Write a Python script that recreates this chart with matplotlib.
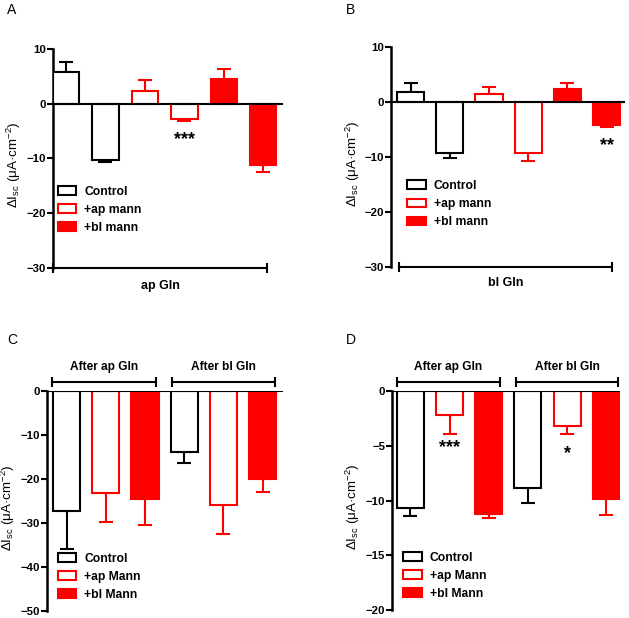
import matplotlib
matplotlib.use("Agg")
import matplotlib.pyplot as plt
from matplotlib.patches import Patch

plt.rcParams['font.family'] = ['Liberation Sans', 'DejaVu Sans']
plt.rcParams['mathtext.fontset'] = 'custom'
plt.rcParams['mathtext.rm'] = 'Liberation Sans'
plt.rcParams['mathtext.it'] = 'Liberation Sans'
plt.rcParams['mathtext.bf'] = 'Liberation Sans:bold'

RED = '#FF0000'

# Panel A (ap Gln)
a_vals = [5.8, -10.3, 2.3, -2.7, 4.5, -11.2]
a_errs = [1.8, 0.4, 2.1, 0.5, 1.8, 1.2]
# Panel B (bl Gln)
b_vals = [1.8, -9.3, 1.4, -9.3, 2.3, -4.1]
b_errs = [1.7, 0.9, 1.3, 1.4, 1.2, 0.4]
# Panel C
c_vals = [-27.2, -23.2, -24.6, -13.8, -25.8, -20.1]
c_errs = [8.6, 6.6, 5.9, 2.5, 6.7, 2.9]
# Panel D
d_vals = [-10.7, -2.2, -11.2, -8.9, -3.2, -9.9]
d_errs = [0.7, 1.7, 0.4, 1.3, 0.7, 1.4]

groups_ab = ['Control', '+ap mann', '+bl mann']
groups_cd = ['Control', '+ap Mann', '+bl Mann']
bar_groups = [0, 0, 1, 1, 2, 2]          # A/B: pairs per treatment
bar_groups_cd = [0, 1, 2, 0, 1, 2]       # C/D: triplets per condition

styles = [dict(fc='white', ec='black'), dict(fc='white', ec=RED), dict(fc=RED, ec=RED)]
ylabel = 'ΔI$_{sc}$ (μA·cm$^{-2}$)'

fig = plt.figure(figsize=(6.29, 6.18), dpi=100)
W, H = 629, 618

def make_ax(x0, x1, ytop, ybot):
    return fig.add_axes([x0 / W, 1 - ybot / H, (x1 - x0) / W, (ybot - ytop) / H])

def draw_bars(ax, vals, errs, grp, width):
    for i, (v, e, g) in enumerate(zip(vals, errs, grp)):
        st = styles[g]
        ax.bar(i, v, width=width, facecolor=st['fc'], edgecolor=st['ec'], linewidth=1.5, zorder=3)
        lo, hi = (0, e) if v >= 0 else (e, 0)
        ax.errorbar(i, v, yerr=[[lo], [hi]], fmt='none', ecolor=st['ec'],
                    elinewidth=1.5, capsize=5, capthick=1.5, zorder=2)

def style_ax(ax, ylim, yticks, xlim, labx):
    ax.set_ylim(*ylim)
    ax.set_xlim(*xlim)
    ax.set_yticks(yticks)
    ax.set_xticks([])
    for s in ['top', 'right', 'bottom']:
        ax.spines[s].set_visible(False)
    ax.spines['left'].set_linewidth(1.8)
    ax.tick_params(axis='y', width=1.5, length=4, labelsize=8.2, pad=0.8)
    for t in ax.get_yticklabels():
        t.set_fontweight('bold')
    ax.axhline(0, color='black', lw=1.5, zorder=4)
    ax.set_ylabel(ylabel, fontsize=9.6, fontweight='normal')
    ax.yaxis.set_label_coords(labx, 0.47)
    ax.patch.set_alpha(0)

def bracket(ax, x0, x1, y, label, ly, fs):
    ax.plot([x0, x1], [y, y], color='black', lw=1.5, clip_on=False, zorder=5)
    ax.plot([x0, x1], [y, y], ls='none', marker='|', ms=7, mew=1.5, color='black', clip_on=False, zorder=5)
    ax.text((x0 + x1) / 2, ly, label, ha='center', va='center', fontsize=fs, fontweight='bold')

def legend(ax, labels, anchor):
    handles = [Patch(facecolor=s['fc'], edgecolor=s['ec'], linewidth=1.5) for s in styles]
    ax.legend(handles, labels, loc='upper left', bbox_to_anchor=anchor, frameon=False,
              prop=dict(size=8.7, weight='bold'), handlelength=1.5, handleheight=0.75,
              handletextpad=0.7, labelspacing=0.5, borderpad=0, borderaxespad=0)

def stars(ax, x, y, s):
    ax.text(x, y, s, ha='center', va='center', fontsize=13, fontweight='bold')

# A
axA = make_ax(53, 283, 49, 268)
draw_bars(axA, a_vals, a_errs, bar_groups, 0.67)
style_ax(axA, (-30, 10), [-30, -20, -10, 0, 10], (-0.33, 5.5), -0.13)
bracket(axA, -0.33, 5.1, -30, 'ap Gln', -33.2, 9)
stars(axA, 3, -6.6, '***')
legend(axA, groups_ab, (0.02, 0.375))

# B
axB = make_ax(391, 625, 47, 267)
draw_bars(axB, b_vals, b_errs, bar_groups, 0.69)
style_ax(axB, (-30, 10), [-30, -20, -10, 0, 10], (-0.5, 5.47), -0.126)
bracket(axB, -0.29, 5.13, -30, 'bl Gln', -33.0, 9)
stars(axB, 5, -7.9, '**')
legend(axB, groups_ab, (0.07, 0.395))

# C
axC = make_ax(47, 283, 391, 611)
draw_bars(axC, c_vals, c_errs, bar_groups_cd, 0.69)
style_ax(axC, (-50, 0), [-50, -40, -30, -20, -10, 0], (-0.5, 5.52), -0.128)
bracket(axC, -0.37, 2.28, 2.0, 'After ap Gln', 5.4, 8.6)
bracket(axC, 2.69, 5.32, 2.0, 'After bl Gln', 5.4, 8.6)
legend(axC, groups_cd, (0.045, 0.265))

# D
axD = make_ax(392, 620, 391, 610)
draw_bars(axD, d_vals, d_errs, bar_groups_cd, 0.69)
style_ax(axD, (-20, 0), [-20, -15, -10, -5, 0], (-0.47, 5.35), -0.13)
bracket(axD, -0.34, 2.28, 0.82, 'After ap Gln', 2.2, 8.6)
bracket(axD, 2.69, 5.31, 0.82, 'After bl Gln', 2.2, 8.6)
stars(axD, 1, -5.2, '***')
stars(axD, 4, -5.7, '*')
legend(axD, groups_cd, (0.05, 0.265))

# Panel letters
for lbl, (px, py) in zip('ABCD', [(7, 10), (346, 10), (7, 340), (346, 340)]):
    fig.text(px / W, 1 - py / H, lbl, fontsize=10, fontweight='normal', ha='left', va='center')

fig.savefig('out.png', dpi=100)
